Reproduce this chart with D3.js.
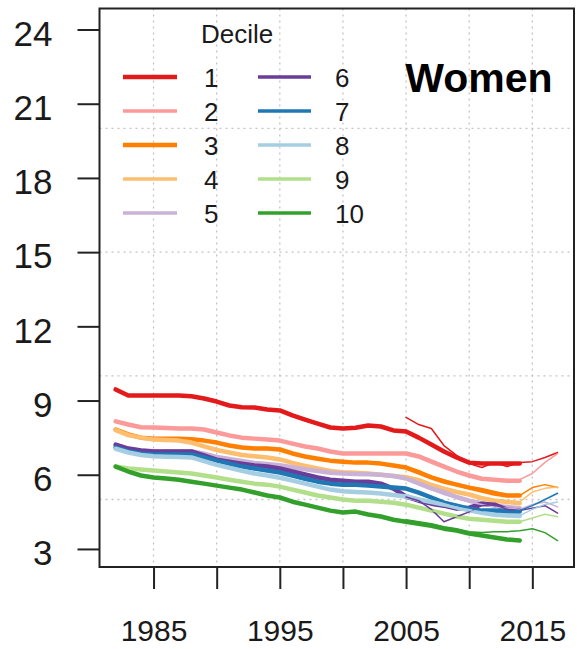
<!DOCTYPE html>
<html><head><meta charset="utf-8">
<script src="https://cdn.jsdelivr.net/npm/d3@7"></script>
<style>body{margin:0;background:#fff}svg{display:block;font-family:"Liberation Sans",Arial,sans-serif}</style>
</head><body><svg id="c" width="577" height="649"></svg>
<script>
const years = [1982,1983,1984,1985,1986,1987,1988,1989,1990,1991,1992,1993,1994,1995,1996,1997,1998,1999,2000,2001,2002,2003,2004,2005,2006,2007,2008,2009,2010,2011,2012,2013,2014];
const yearsAlt = [2005,2006,2007,2008,2009,2010,2011,2012,2013,2014,2015,2016,2017];
const deciles = ["1","2","3","4","5","6","7","8","9","10"];
const colors = ["#E31A1C","#FB9A99","#FF7F00","#FDBF6F","#CAB2D6","#6A3D9A","#1F78B4","#A6CEE3","#B2DF8A","#33A02C"];
const d1 = [9.45,9.2,9.2,9.2,9.2,9.2,9.17,9.08,8.96,8.8,8.73,8.72,8.64,8.6,8.4,8.23,8.07,7.91,7.87,7.9,7.99,7.95,7.79,7.75,7.5,7.22,6.94,6.7,6.49,6.45,6.45,6.45,6.45];
const d2 = [8.16,8.03,7.92,7.91,7.89,7.87,7.87,7.83,7.71,7.59,7.5,7.46,7.42,7.38,7.26,7.14,7.06,6.94,6.86,6.86,6.86,6.86,6.86,6.86,6.74,6.53,6.33,6.13,5.97,5.84,5.8,5.76,5.76];
const d3v = [7.83,7.63,7.5,7.46,7.46,7.46,7.44,7.38,7.3,7.18,7.1,7.06,7.06,7.02,6.86,6.74,6.65,6.57,6.53,6.49,6.49,6.45,6.37,6.29,6.09,5.89,5.72,5.6,5.48,5.36,5.24,5.16,5.16];
const d4 = [7.8,7.6,7.5,7.42,7.4,7.38,7.3,7.15,7.0,6.9,6.8,6.75,6.7,6.62,6.48,6.36,6.25,6.15,6.1,6.08,6.05,6.0,5.95,5.9,5.75,5.58,5.43,5.3,5.2,5.05,4.95,4.9,4.85];
const d5 = [7.2,7.05,6.98,6.95,6.95,6.95,6.95,6.85,6.72,6.64,6.56,6.48,6.43,6.38,6.3,6.22,6.15,6.08,6.05,6.03,6.02,6.0,5.95,5.85,5.65,5.45,5.3,5.1,4.95,4.85,4.75,4.7,4.65];
const d6 = [7.22,7.06,6.98,6.94,6.94,6.94,6.94,6.78,6.61,6.53,6.45,6.37,6.33,6.25,6.13,6.01,5.89,5.8,5.76,5.72,5.72,5.64,5.44,5.12,4.95,4.83,4.75,4.63,4.67,4.83,4.79,4.59,4.55];
const d7 = [7.1,6.94,6.86,6.82,6.82,6.82,6.82,6.7,6.57,6.45,6.33,6.25,6.17,6.09,5.97,5.84,5.72,5.64,5.6,5.6,5.56,5.52,5.48,5.44,5.28,5.08,4.87,4.75,4.63,4.55,4.55,4.51,4.51];
const d8 = [7.05,6.9,6.8,6.75,6.73,6.72,6.7,6.55,6.4,6.28,6.16,6.05,5.97,5.88,5.76,5.64,5.52,5.4,5.33,5.3,5.28,5.24,5.18,5.12,5.0,4.9,4.8,4.68,4.56,4.46,4.38,4.35,4.33];
const d9 = [6.33,6.25,6.21,6.17,6.13,6.09,6.05,5.97,5.89,5.8,5.72,5.64,5.6,5.52,5.4,5.28,5.16,5.08,5.0,4.95,4.95,4.91,4.87,4.79,4.67,4.55,4.43,4.31,4.22,4.18,4.14,4.1,4.1];
const d10 = [6.33,6.13,5.97,5.89,5.85,5.8,5.72,5.64,5.56,5.48,5.4,5.28,5.16,5.08,4.91,4.79,4.67,4.55,4.47,4.51,4.39,4.31,4.18,4.1,4.02,3.94,3.82,3.74,3.62,3.54,3.46,3.38,3.34];
const a1 = [8.32,8.03,7.87,7.18,6.78,6.45,6.29,6.49,6.33,6.49,6.53,6.7,6.9];
const a2 = [6.9,6.78,6.6,6.38,6.15,6.0,5.88,5.82,5.78,5.8,6.05,6.5,6.85];
const a3 = [6.33,6.17,5.93,5.8,5.64,5.52,5.44,5.32,5.2,5.16,5.48,5.6,5.48];
const a4 = [5.95,5.85,5.65,5.5,5.35,5.2,5.1,5.0,4.95,4.9,5.3,5.45,5.5];
const a5 = [5.8,5.6,5.4,5.2,5.05,4.9,4.8,4.7,4.65,4.6,4.8,4.9,4.7];
const a6 = [5.1,4.95,4.6,4.1,4.3,4.5,4.75,4.8,4.6,4.55,4.65,4.75,4.45];
const a7 = [5.45,5.25,5.05,4.9,4.75,4.65,4.55,4.55,4.5,4.55,4.75,5.0,5.25];
const a8 = [5.2,5.05,4.9,4.8,4.7,4.55,4.45,4.4,4.35,4.35,4.6,4.8,4.9];
const a9 = [4.8,4.68,4.55,4.43,4.3,4.22,4.18,4.15,4.12,4.1,4.25,4.4,4.3];
const a10 = [4.18,4.1,4.02,3.9,3.82,3.7,3.66,3.7,3.7,3.74,3.82,3.66,3.34];
const yTicks = [3,6,9,12,15,18,21,24];
const xTicks = [1985,1990,1995,2000,2005,2010,2015];
const xLabels = ["1985","","1995","","2005","","2015"];
const yGrid = [5,10,15,20];
const xGrid = [1985,1990,1995,2000,2005,2010,2015];
const title = "Women";
const legendTitle = "Decile";

const mains = [d1,d2,d3v,d4,d5,d6,d7,d8,d9,d10];
const alts = [a1,a2,a3,a4,a5,a6,a7,a8,a9,a10];

const L = 99.5, R = 574, T = 8.5, B = 567;
const svg = d3.select("#c");
const x = d3.scaleLinear().domain([1980.72, 2018.3]).range([L, R]);
const y = d3.scaleLinear().domain([2.27, 24.85]).range([B, T]);

svg.append("defs").append("clipPath").attr("id","clip").append("rect")
  .attr("x",L).attr("y",T).attr("width",R-L).attr("height",B-T);

// grid
const g = svg.append("g").attr("stroke","#c4c4c4").attr("stroke-width",1.3).attr("stroke-dasharray","2,4");
g.selectAll(".gy").data(yGrid).join("line").attr("x1",L).attr("x2",R).attr("y1",d=>y(d)).attr("y2",d=>y(d));
g.selectAll(".gx").data(xGrid).join("line").attr("y1",T).attr("y2",B).attr("x1",d=>x(d)).attr("x2",d=>x(d));

// lines
const lineMain = d3.line().x((d,i)=>x(years[i])).y(d=>y(d));
const lineAlt = d3.line().x((d,i)=>x(yearsAlt[i])).y(d=>y(d));
const lg = svg.append("g").attr("clip-path","url(#clip)").attr("fill","none").attr("stroke-linejoin","round").attr("stroke-linecap","round");
mains.forEach((arr,k)=>{
  lg.append("path").attr("d",lineMain(arr)).attr("stroke",colors[k]).attr("stroke-width",4.5);
});
alts.forEach((arr,k)=>{
  lg.append("path").attr("d",lineAlt(arr)).attr("stroke",colors[k]).attr("stroke-width",1.5);
});

// box
svg.append("rect").attr("x",L).attr("y",T).attr("width",R-L).attr("height",B-T)
  .attr("fill","none").attr("stroke","#222").attr("stroke-width",2);

// y axis
const ya = svg.append("g").attr("transform",`translate(${L},0)`)
  .call(d3.axisLeft(y).tickValues(yTicks).tickSize(22).tickSizeOuter(0).tickPadding(25));
ya.select(".domain").remove();
ya.selectAll("line").attr("stroke","#222").attr("stroke-width",2);
ya.selectAll("text").attr("font-size",35).attr("fill","#1a1a1a").attr("dy","0.45em").attr("font-family","Liberation Sans, Arial, sans-serif");

// x axis
const xa = svg.append("g").attr("transform",`translate(0,${B})`)
  .call(d3.axisBottom(x).tickValues(xTicks).tickSize(22).tickSizeOuter(0).tickFormat((d,i)=>xLabels[i]));
xa.select(".domain").remove();
xa.selectAll("line").attr("stroke","#222").attr("stroke-width",2);
xa.selectAll("text").attr("font-size",30).attr("fill","#1a1a1a").attr("y",74).attr("dy",null).attr("font-family","Liberation Sans, Arial, sans-serif");

// title
svg.append("text").attr("x",479).attr("y",92).attr("text-anchor","middle")
  .attr("font-size",41).attr("font-weight","bold").attr("fill","#000").text(title);

// legend
svg.append("text").attr("x",201).attr("y",43).attr("font-size",26).attr("fill","#1a1a1a").text(legendTitle);
const rowY = k => 77 + (k%5)*34;
deciles.forEach((lab,k)=>{
  const col = k<5 ? 0 : 1;
  const x0 = col ? 258 : 123, x1 = col ? 311 : 177, tx = col ? 335 : 204;
  svg.append("line").attr("x1",x0).attr("x2",x1).attr("y1",rowY(k)).attr("y2",rowY(k))
    .attr("stroke",colors[k]).attr("stroke-width",(k===0||k===2)?4.5:3.5);
  svg.append("text").attr("x",tx).attr("y",rowY(k)+10).attr("font-size",26).attr("fill","#1a1a1a").text(lab);
});
</script></body></html>
